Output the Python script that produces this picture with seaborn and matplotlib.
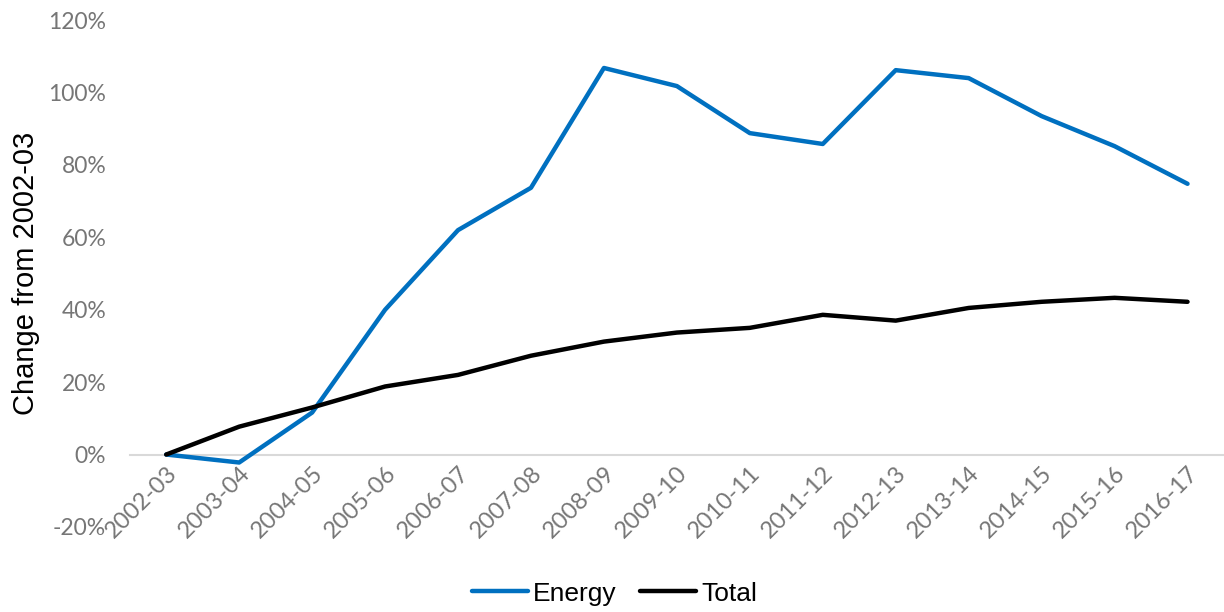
import matplotlib
matplotlib.use("Agg")
import matplotlib.pyplot as plt
import numpy as np
import pandas as pd
import seaborn as sns
from matplotlib.ticker import FuncFormatter

years = ["2002-03", "2003-04", "2004-05", "2005-06", "2006-07", "2007-08", "2008-09",
         "2009-10", "2010-11", "2011-12", "2012-13", "2013-14", "2014-15", "2015-16", "2016-17"]
energy = [0.0, -2.2, 11.6, 40.0, 62.0, 73.7, 106.8, 101.8, 88.8, 85.8, 106.2, 104.0, 93.5, 85.2, 74.8]
total = [0.0, 7.7, 13.0, 18.8, 22.0, 27.3, 31.2, 33.7, 35.0, 38.6, 37.0, 40.5, 42.2, 43.3, 42.2]

df = pd.DataFrame({
    "year": years * 2,
    "idx": list(range(len(years))) * 2,
    "value": energy + total,
    "series": ["Energy"] * len(years) + ["Total"] * len(years),
})

sns.set_style("white")
plt.rcParams["font.family"] = ["Liberation Sans", "DejaVu Sans"]
plt.rcParams["text.color"] = "black"

fig = plt.figure(figsize=(12.24, 6.12), dpi=100)
ax = fig.add_axes([0.106, 0.139, 0.894, 0.828])

sns.lineplot(data=df, x="idx", y="value", hue="series",
             palette={"Energy": "#0070C0", "Total": "#000000"},
             linewidth=3.2, ax=ax, legend=False)

# category axis crosses at 0
for s in ["top", "right", "left"]:
    ax.spines[s].set_visible(False)
ax.spines["bottom"].set_position(("data", 0))
ax.spines["bottom"].set_color("#d9d9d9")
ax.spines["bottom"].set_linewidth(1.5)
ax.spines["bottom"].set_zorder(0)

ax.set_xlim(-0.5, len(years) - 0.5)
ax.set_ylim(-20, 120)
ax.set_yticks(np.arange(-20, 121, 20))
ax.yaxis.set_major_formatter(FuncFormatter(lambda v, p: f"{v:.0f}%"))
ax.set_xticks(range(len(years)))
ax.set_xticklabels(years, rotation=45, ha="right", rotation_mode="anchor")
for lab in ax.get_xticklabels():
    lab.set_family(["Lato", "DejaVu Sans"])
    lab.set_fontsize(17)
    lab.set_color("#767676")
for lab in ax.get_yticklabels():
    lab.set_family(["Lato", "DejaVu Sans"])
    lab.set_fontsize(16.5)
    lab.set_color("#767676")
ax.tick_params(axis="y", length=0, pad=17)
ax.tick_params(axis="x", length=0, pad=6)

ax.set_xlabel("")
ax.set_ylabel("Change from 2002-03", fontsize=21, color="black", labelpad=6)

handles = [plt.Line2D([], [], color="#0070C0", linewidth=3.2),
           plt.Line2D([], [], color="#000000", linewidth=3.2)]
fig.legend(handles, ["Energy", "Total"], loc="center", bbox_to_anchor=(0.502, 0.03),
           ncol=2, frameon=False, fontsize=19, handlelength=2.1,
           columnspacing=0.9, handletextpad=0.2, labelcolor="black")

fig.savefig("out.png", dpi=100)
